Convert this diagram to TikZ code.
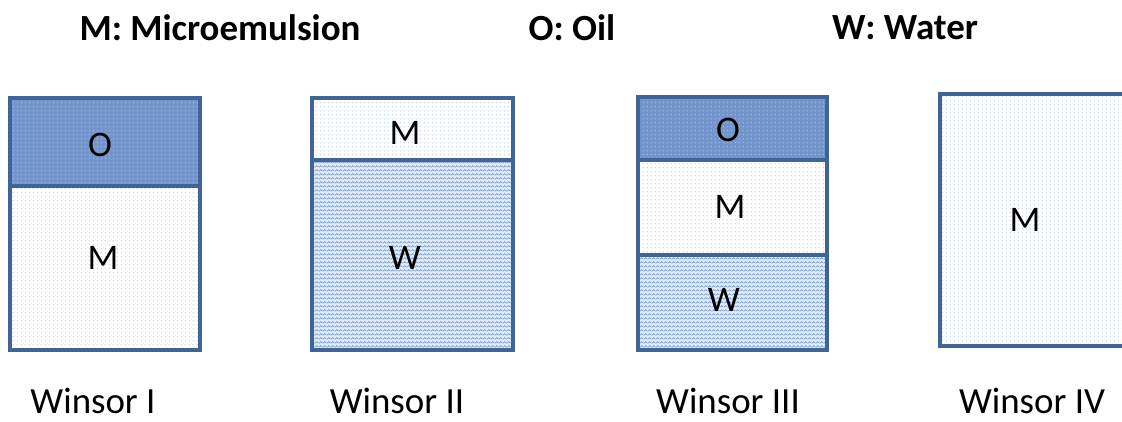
\documentclass[tikz,border=0pt]{standalone}
\usepackage{fontspec}
\setmainfont{Carlito}
\usetikzlibrary{patterns.meta}

\definecolor{frame}{RGB}{65,100,150}
\definecolor{oilblue}{RGB}{115,149,203}
\definecolor{dotblue}{RGB}{120,160,215}
\definecolor{waterblue}{RGB}{225,234,247}

% small dots for the microemulsion
\pgfdeclarepattern{name=finedots, type=uncolored,
  bottom left={\pgfpoint{0pt}{0pt}}, top right={\pgfpoint{2.3pt}{2.3pt}},
  tile size={\pgfpoint{2.3pt}{2.3pt}},
  code={\pgfpathrectangle{\pgfpoint{0.6pt}{0.6pt}}{\pgfpoint{0.55pt}{0.55pt}}\pgfusepath{fill}}}
% zigzag lines for the water
\pgfdeclarepattern{name=zigzag, type=uncolored,
  bottom left={\pgfpoint{0pt}{0pt}}, top right={\pgfpoint{2.4pt}{2pt}},
  tile size={\pgfpoint{2.4pt}{2pt}},
  code={\pgfsetlinewidth{0.45pt}
    \pgfpathmoveto{\pgfpoint{0pt}{0.5pt}}\pgfpathlineto{\pgfpoint{1.2pt}{1.5pt}}
    \pgfpathlineto{\pgfpoint{2.4pt}{0.5pt}}\pgfusepath{stroke}}}

\tikzset{
  box/.style={draw=frame, line width=2pt},
  oil/.style={pattern={finedots}, pattern color=white!75!oilblue},
  emul/.style={pattern={finedots}, pattern color=dotblue},
  water/.style={pattern={zigzag}, pattern color=dotblue},
  phase/.style={font=\fontsize{20.5}{22}\selectfont},
  caption/.style={anchor=base, inner sep=0pt, font=\fontsize{21}{24}\selectfont},
  legend/.style={font=\bfseries\fontsize{21}{24}\selectfont}
}

\begin{document}
\begin{tikzpicture}[x=0.02cm, y=-0.02cm]
    \clip (0,0) rectangle (1122,422);
    \fill[white] (0,0) rectangle (1122,422);

    % Leyenda
    \node[legend] (keyM) at (220,28) {M: Microemulsion};
    \node[legend] (keyO) at (572,28) {O: Oil};
    \node[legend] (keyW) at (905,28) {W: Water};

    % Winsor I
    \fill[oilblue] (10,98) rectangle (200,186);
    \fill[oil] (10,98) rectangle (200,186);
    \fill[emul] (10,186) rectangle (200,350);
    \draw[box] (10,186) -- (200,186);
    \draw[box] (10,98) rectangle (200,350);
    \node[phase] (o1) at (100,145) {O};
    \node[phase] (m1) at (103,258) {M};

    % Winsor II
    \fill[emul] (312,98) rectangle (513,160);
    \fill[waterblue] (312,160) rectangle (513,350);
    \fill[water] (312,160) rectangle (513,350);
    \draw[box] (312,160) -- (513,160);
    \draw[box] (312,98) rectangle (513,350);
    \node[phase] (m2) at (405,133) {M};
    \node[phase] (w2) at (405,258) {W};

    % Winsor III
    \fill[oilblue] (638,97) rectangle (827,160);
    \fill[oil] (638,97) rectangle (827,160);
    \fill[emul] (638,160) rectangle (827,255);
    \fill[waterblue] (638,255) rectangle (827,350);
    \fill[water] (638,255) rectangle (827,350);
    \draw[box] (638,160) -- (827,160);
    \draw[box] (638,255) -- (827,255);
    \draw[box] (638,97) rectangle (827,350);
    \node[phase] (o3) at (728,130) {O};
    \node[phase] (m3) at (730,207) {M};
    \node[phase] (w3) at (724,300) {W};

    % Winsor IV
    \fill[emul] (940,94) rectangle (1140,346);
    \draw[box] (940,94) rectangle (1140,346);
    \node[phase] (m4) at (1025,220) {M};

    % Nombres
    \node[caption] (c1) at (93,413) {Winsor I};
    \node[caption] (c2) at (397,413) {Winsor II};
    \node[caption] (c3) at (728,413) {Winsor III};
    \node[caption] (c4) at (1032,413) {Winsor IV};
\end{tikzpicture}
\end{document}
